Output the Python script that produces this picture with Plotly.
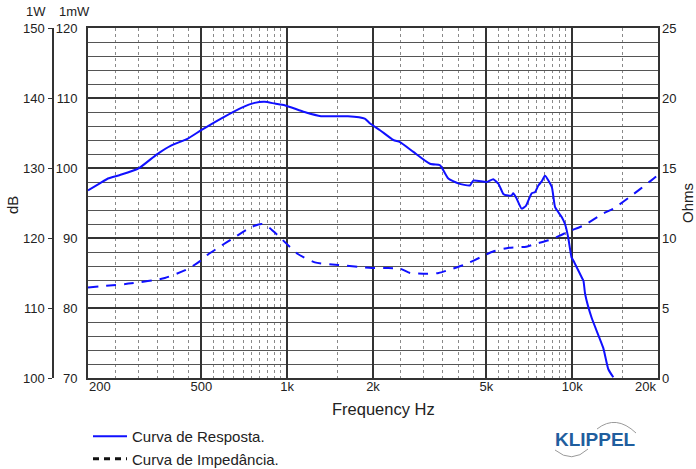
import plotly.graph_objects as go

# ---------------- data ----------------
resp_freq = [200, 220, 235, 259, 300, 349, 391, 448, 499, 588, 690, 769, 834, 905, 980,
             1150, 1314, 1634, 1871, 1954, 2117, 2358, 2488, 2771, 3170, 3429, 3483, 3675,
             3981, 4375, 4496, 5012, 5285, 5508, 5733, 5890, 6130, 6210, 6370, 6645, 6880,
             7210, 7400, 7605, 7818, 8025, 8478, 8710, 9185, 9435, 9680, 9950, 10090, 10790,
             10950, 11100, 11700, 12850, 13390, 13940]
resp_db = [96.8, 97.8, 98.5, 99.0, 99.9, 101.95, 103.2, 104.2, 105.4, 107.1, 108.6, 109.3,
           109.45, 109.2, 108.97, 108.0, 107.4, 107.4, 107.06, 106.35, 105.4, 104.0, 103.7,
           102.3, 100.6, 100.4, 100.1, 98.5, 97.8, 97.5, 98.2, 98.0, 98.4, 97.75, 96.3, 96.1,
           96.1, 96.4, 95.7, 94.2, 94.6, 96.4, 96.55, 97.5, 98.1, 98.9, 97.3, 94.4, 93.0, 92.0,
           90.1, 87.2, 86.8, 84.4, 83.9, 82.0, 78.6, 74.3, 71.25, 70.1]

imp_freq = [200, 284, 372, 448, 493, 520, 588, 654, 747, 812, 856, 929, 996, 1090, 1250,
            1510, 1980, 2260, 2500, 2700, 3000, 3400, 3730, 4200, 4800, 5300, 6000, 6900,
            7500, 8300, 9000, 9800, 10950, 12850, 13900, 15900, 18900, 19700]
imp_ohm = [6.47, 6.76, 7.14, 7.79, 8.33, 8.74, 9.46, 10.05, 10.77, 11.0, 10.8, 10.17, 9.58,
           8.86, 8.26, 8.07, 7.86, 7.85, 7.8, 7.5, 7.45, 7.5, 7.75, 8.1, 8.65, 9.05, 9.3,
           9.38, 9.6, 9.85, 10.15, 10.5, 10.89, 11.75, 12.08, 12.92, 14.1, 14.4]

x_tick_vals = [500, 1000, 2000, 5000, 10000]
x_tick_text = ["500", "1k", "2k", "5k", "10k"]
x_edge_labels = ["200", "20k"]
x_minor_vals = [250, 300, 350, 400, 450,
                550, 600, 650, 700, 750, 800, 850, 900, 950,
                1500,
                2500, 3000, 3500, 4000, 4500,
                5500, 6000, 6500, 7000, 7500, 8000, 8500, 9000, 9500,
                15000]
y_mw_ticks = [70, 80, 90, 100, 110, 120]
y_w_ticks = [100, 110, 120, 130, 140, 150]
y_ohm_ticks = [0, 5, 10, 15, 20, 25]

legend_names = ["Curva de Resposta.", "Curva de Impedância."]

# ---------------- figure ----------------
FONT = "Liberation Sans, Arial, sans-serif"
W, H = 696, 469
ML, MR, MT, MB = 40, 38, 28, 91
PW = W - ML - MR
PH = H - MT - MB
x0_dom = (88 - ML) / PW

BLUE = "#1010ff"
TXT = "#222222"

fig = go.Figure()

fig.add_trace(go.Scatter(
    x=resp_freq, y=resp_db, mode="lines", name=legend_names[0],
    line=dict(color=BLUE, width=2, shape="spline", smoothing=0.5),
    xaxis="x", yaxis="y", showlegend=True))

fig.add_trace(go.Scatter(
    x=imp_freq, y=imp_ohm, mode="lines", name=legend_names[1],
    line=dict(color=BLUE, width=2, dash="10px,8px", shape="spline", smoothing=0.6),
    xaxis="x", yaxis="y2", showlegend=False))

# legend proxy for the impedance (drawn black dashed in the legend)
fig.add_trace(go.Scatter(
    x=[None], y=[None], mode="lines", name=legend_names[1],
    line=dict(color="#111111", width=3, dash="6px,5px"),
    xaxis="x", yaxis="y", showlegend=True))

fig.update_layout(
    width=W, height=H,
    margin=dict(l=ML, r=MR, t=MT, b=MB, autoexpand=False),
    paper_bgcolor="white", plot_bgcolor="white",
    font=dict(family=FONT, size=13, color=TXT),
    xaxis=dict(
        type="log", range=[2.30103, 4.30103], domain=[x0_dom, 1],
        tickmode="array", tickvals=x_tick_vals, ticktext=x_tick_text,
        ticks="", ticklabelstandoff=-5,
        showgrid=True, gridcolor="#333333", gridwidth=2.2,
        showline=True, linecolor="#333333", linewidth=2, mirror=True,
        zeroline=False,
        minor=dict(tickmode="array", tickvals=x_minor_vals, showgrid=True,
                   gridcolor="#8a8a8a", gridwidth=1, griddash="dot", ticks=""),
        tickfont=dict(size=13, color=TXT),
    ),
    yaxis=dict(
        range=[70, 120], tickmode="array", tickvals=y_mw_ticks,
        ticks="", ticklabelstandoff=6,
        showgrid=True, gridcolor="#333333", gridwidth=2,
        showline=True, linecolor="#333333", linewidth=2, mirror=True,
        zeroline=False,
        minor=dict(dtick=2, showgrid=True, gridcolor="#555555", gridwidth=1.3, ticks=""),
        tickfont=dict(size=13, color=TXT),
    ),
    yaxis2=dict(
        range=[0, 25], overlaying="y", side="right", anchor="x",
        tickmode="array", tickvals=y_ohm_ticks, ticks="", ticklabelstandoff=3,
        showgrid=False, zeroline=False, showline=False,
        title=dict(text="Ohms", font=dict(size=15, color=TXT), standoff=8),
        tickfont=dict(size=13, color=TXT),
    ),
    yaxis3=dict(
        range=[100, 150], overlaying="y", side="left", anchor="free",
        position=(53 - ML) / PW,
        tickmode="array", tickvals=y_w_ticks, ticks="outside", ticklen=4,
        tickcolor="#333333", tickwidth=1, ticklabelstandoff=1,
        showgrid=False, zeroline=False, showline=True, linecolor="#333333", linewidth=1.5,
        tickfont=dict(size=13, color=TXT),
    ),
    legend=dict(
        xref="container", yref="container", x=88 / W, y=1 - 420 / H,
        xanchor="left", yanchor="top", bgcolor="rgba(0,0,0,0)",
        font=dict(size=15, color=TXT), tracegroupgap=0, itemwidth=34,
    ),
    showlegend=True,
)

# dummy trace so that yaxis3 is drawn
fig.add_trace(go.Scatter(x=[None], y=[None], yaxis="y3", xaxis="x", showlegend=False))

def px_x(px):
    return (px - ML) / PW

def px_y(py):
    return (H - MB - py) / PH

annos = [
    dict(text="1W", x=px_x(36), y=px_y(12), font=dict(size=13)),
    dict(text="1mW", x=px_x(74), y=px_y(12), font=dict(size=13)),
    dict(text="dB", x=px_x(12), y=px_y(205), font=dict(size=15), textangle=-90),
    dict(text=x_edge_labels[0], x=px_x(100), y=px_y(386), font=dict(size=13)),
    dict(text=x_edge_labels[1], x=px_x(645), y=px_y(386), font=dict(size=13)),
    dict(text="Frequency Hz", x=px_x(383), y=px_y(409), font=dict(size=16.5)),
    dict(text="<b>KLIPPEL</b>", x=px_x(595), y=px_y(440),
         font=dict(size=19, color="#1f5e9e", family="Liberation Sans, Arial")),
]
for a in annos:
    a.update(xref="paper", yref="paper", showarrow=False, xanchor="center", yanchor="middle")
    fig.add_annotation(**a)

# logo arcs
def arc(p0, c, p1):
    return (f"M {px_x(p0[0])},{px_y(p0[1])} Q {px_x(c[0])},{px_y(c[1])} "
            f"{px_x(p1[0])},{px_y(p1[1])}")

fig.add_shape(type="path", xref="paper", yref="paper",
              path=arc((597, 429), (616, 414), (636, 433)),
              line=dict(color="#9a9a9a", width=1))
fig.add_shape(type="path", xref="paper", yref="paper",
              path=arc((555, 450), (572, 464), (588, 449)),
              line=dict(color="#9a9a9a", width=1))

fig.write_html("out.html")
